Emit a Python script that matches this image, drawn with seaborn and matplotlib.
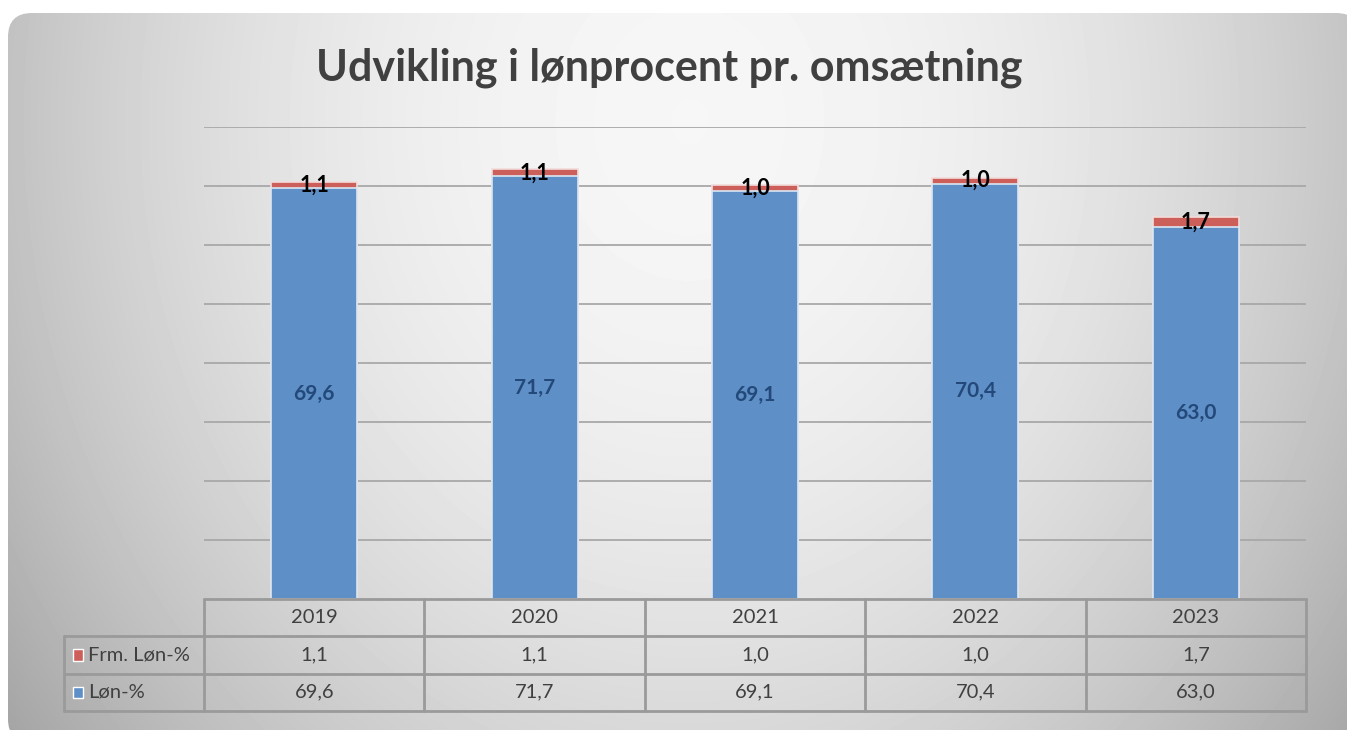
import numpy as np
import pandas as pd
import seaborn as sns
import matplotlib.pyplot as plt
from matplotlib.patches import FancyBboxPatch, Rectangle

# data
years = ['2019', '2020', '2021', '2022', '2023']
lon = [69.6, 71.7, 69.1, 70.4, 63.0]
frm_lon = [1.1, 1.1, 1.0, 1.0, 1.7]
series_names = ['Frm. Løn-%', 'Løn-%']

blue = '#5f8fc7'
red = '#cd5f5b'
txt = '#404040'

sns.set_theme(style='white')
plt.rcParams['font.family'] = ['Lato', 'DejaVu Sans']

df = pd.DataFrame({'year': years, 'lon': lon, 'frm': frm_lon})
df['total'] = df['lon'] + df['frm']

fig = plt.figure(figsize=(13.47, 7.30), dpi=100)
fig.patch.set_facecolor('white')

# card background with soft gradient
bg = fig.add_axes([0, 0, 1, 1])
bg.set_xlim(0, 1347)
bg.set_ylim(730, 0)
bg.axis('off')
gx, gy = np.meshgrid(np.linspace(0, 1347, 400), np.linspace(0, 730, 220))
r = np.sqrt(((gx - 690) / 740) ** 2 + ((gy - 120) / 880) ** 2)
shade = np.clip(0.965 - 0.24 * r ** 2, 0, 1)
img = bg.imshow(shade, cmap='gray', vmin=0, vmax=1, extent=(0, 1347, 730, 0),
                aspect='auto', interpolation='bilinear')
card = FancyBboxPatch((8, 13), 1352, 730, boxstyle='round,pad=0,rounding_size=24',
                      facecolor='none', edgecolor='none', transform=bg.transData)
bg.add_patch(card)
img.set_clip_path(card)

fig.text(0.497, 0.907, 'Udvikling i lønprocent pr. omsætning', ha='center', va='center',
         fontsize=31, fontweight='bold', color=txt)

# bars
ax = fig.add_axes([204 / 1347, 131 / 730, 1102 / 1347, 472 / 730])
ax.patch.set_alpha(0)
sns.barplot(data=df, x='year', y='total', color=red, width=0.39, saturation=1,
            edgecolor='#f2dcdb', linewidth=1.2, ax=ax)
sns.barplot(data=df, x='year', y='lon', color=blue, width=0.39, saturation=1,
            edgecolor='#dce6f2', linewidth=1.2, ax=ax)
ax.set_ylim(0, 80)
ax.set_xlim(-0.5, len(years) - 0.5)
ax.set_yticks(np.arange(10, 81, 10))
ax.yaxis.grid(True, color='#a8a8a8', linewidth=1.3)
ax.set_axisbelow(True)
ax.tick_params(left=False, bottom=False, labelleft=False, labelbottom=False)
ax.set_xlabel('')
ax.set_ylabel('')
sns.despine(ax=ax, left=True, bottom=True)

for i in range(len(years)):
    ax.text(i, lon[i] / 2, f'{lon[i]:.1f}'.replace('.', ','), ha='center', va='center',
            fontsize=15, fontweight='bold', color='#23497a')
    ax.text(i, lon[i] + frm_lon[i] / 2, f'{frm_lon[i]:.1f}'.replace('.', ','),
            ha='center', va='center', fontsize=15.5, fontweight='bold', color='black')

# data table
tab = fig.add_axes([204 / 1347, 19 / 730, 1102 / 1347, 112 / 730])
tab.set_xlim(-0.5, len(years) - 0.5)
tab.set_ylim(3, 0)
tab.axis('off')
lc = '#9a9a9a'
lw = 2
xl = -0.5 - 140 / 220.4
n = len(years)
tab.plot([-0.5, n - 0.5], [0, 0], color=lc, lw=lw, clip_on=False)
for yy in [1, 2, 3]:
    tab.plot([xl, n - 0.5], [yy, yy], color=lc, lw=lw, clip_on=False)
tab.plot([xl, xl], [1, 3], color=lc, lw=lw, clip_on=False)
for xx in np.arange(-0.5, n, 1.0):
    tab.plot([xx, xx], [0, 3], color=lc, lw=lw, clip_on=False)

for i, y in enumerate(years):
    tab.text(i, 0.5, y, ha='center', va='center', fontsize=14.5, color=txt)
    tab.text(i, 1.5, f'{frm_lon[i]:.1f}'.replace('.', ','), ha='center', va='center',
             fontsize=14.5, color=txt)
    tab.text(i, 2.5, f'{lon[i]:.1f}'.replace('.', ','), ha='center', va='center',
             fontsize=14.5, color=txt)

for row, (name, col) in enumerate(zip(series_names, [red, blue])):
    tab.add_patch(Rectangle((xl + 0.04, row + 1.35), 0.045, 0.3, facecolor=col,
                            edgecolor='white', lw=1, clip_on=False))
    tab.text(xl + 0.11, row + 1.5, name, ha='left', va='center', fontsize=14.5, color=txt)

fig.savefig('out.png', dpi=100)
